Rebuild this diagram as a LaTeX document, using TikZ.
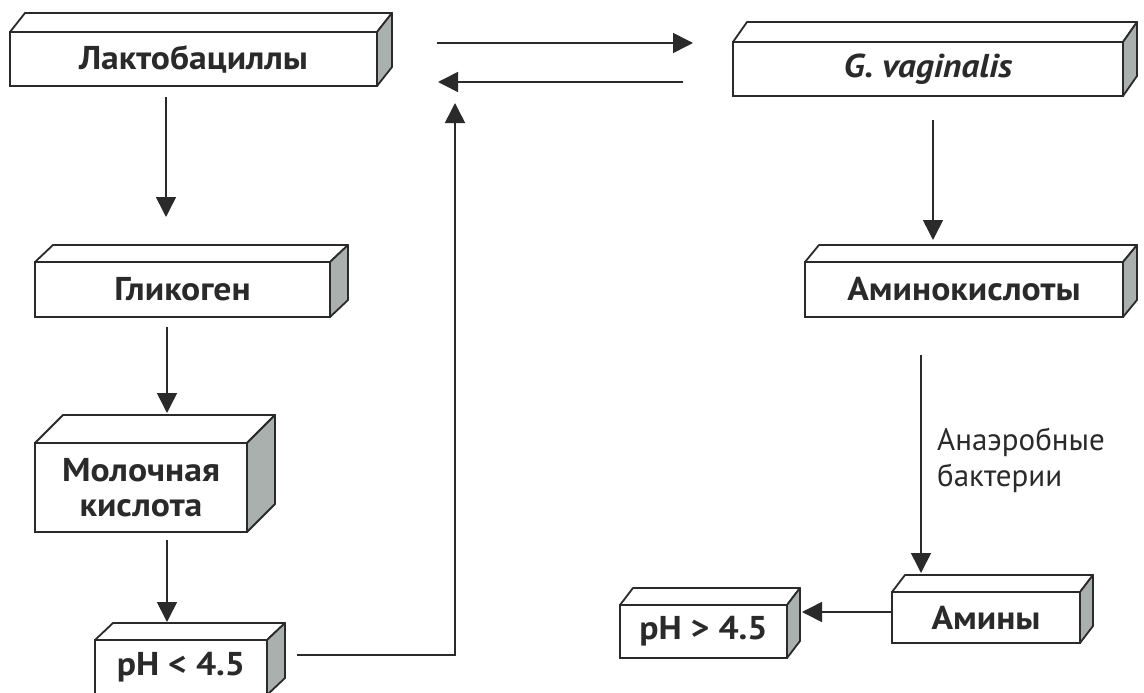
\documentclass[tikz,border=0pt]{standalone}
\usepackage{fontspec}
\setmainfont{PT Sans}
\newfontfamily\boxfont{PT Sans}[FakeStretch=1.08]
\usetikzlibrary{arrows.meta,calc}
\definecolor{ink}{HTML}{2A2A2A}
\definecolor{sideface}{HTML}{A9B0AD}
\tikzset{
  box/.style={draw=ink, line width=1.8pt, fill=white, inner sep=0pt, outer sep=0pt,
    font=\boxfont\bfseries\fontsize{33}{35}\selectfont, text=ink, align=center},
  face/.style={draw=ink, line width=1.8pt, line join=round},
  arr/.style={draw=ink, line width=1.6pt, -{Triangle[length=20pt,width=20pt]}},
  lbl/.style={font=\fontsize{31}{36}\selectfont, text=ink, align=left, inner sep=0pt}
}
\newcommand\cuboid[8]{%
  \node[box,minimum width=#4pt,minimum height=#5pt] (#1) at (#2,#3) {#8};
  \draw[face,fill=white] (#1.north west) -- ($(#1.north west)+(#6,-#7)$) -- ($(#1.north east)+(#6,-#7)$) -- (#1.north east) -- cycle;
  \draw[face,fill=sideface] (#1.north east) -- ($(#1.north east)+(#6,-#7)$) -- ($(#1.south east)+(#6,-#7)$) -- (#1.south east) -- cycle;
}
\begin{document}
\begin{tikzpicture}[x=1pt,y=-1pt]
\useasboundingbox (0,0) rectangle (1144,693);
\fill[white] (0,0) rectangle (1144,693);
\cuboid{lakto}{193.5}{59}{367}{54}{15}{19}{Лактобациллы}
\cuboid{gv}{928}{69}{390}{54}{14}{20}{\itshape G. vaginalis}
\cuboid{glyc}{182.5}{289.5}{295}{55}{18}{17}{Гликоген}
\cuboid{amino}{964}{289.5}{318}{55}{14}{17}{Аминокислоты}
\cuboid{moloch}{141}{487.5}{212}{89}{28}{28}{Молочная\\кислота}
\cuboid{phlow}{181}{667.5}{172}{55}{18}{17}{pH < 4.5}
\cuboid{amines}{986}{617.5}{188}{51}{13}{17}{Амины}
\cuboid{phhigh}{703.5}{631.5}{167}{53}{13}{17}{pH > 4.5}
\coordinate (mid) at (455,103);
\draw[arr] ($(lakto.east)+(60,-16)$) -- ($(gv.west)+(-40,-26)$);
\draw[arr] ($(gv.west)+(-50,13)$) -- ($(lakto.east)+(61,23)$);
\draw[arr] ($(lakto.south)+(-27.5,11)$) -- ($(glyc.north)+(-16.5,-45)$);
\draw[arr] ($(glyc.south)+(-15.5,10)$) -- ($(moloch.north)+(26,-30)$);
\draw[arr] ($(moloch.south)+(26,8)$) -- ($(phlow.north)+(-14,-18)$);
\draw[arr] ($(phlow.east)+(30,-12.5)$) -| (mid);
\draw[arr] ($(gv.south)+(5,24)$) -- ($(amino.north)+(-31,-22)$);
\draw[arr] ($(amino.south)+(-43,38)$) -- ($(amines.north)+(-65,-19)$);
\node[lbl, anchor=west] (lab) at (937,460) {Анаэробные\\бактерии};
\draw[arr] ($(amines.west)+(0,-5.5)$) -- ($(phhigh.east)+(15,-19.5)$);
\end{tikzpicture}
\end{document}
